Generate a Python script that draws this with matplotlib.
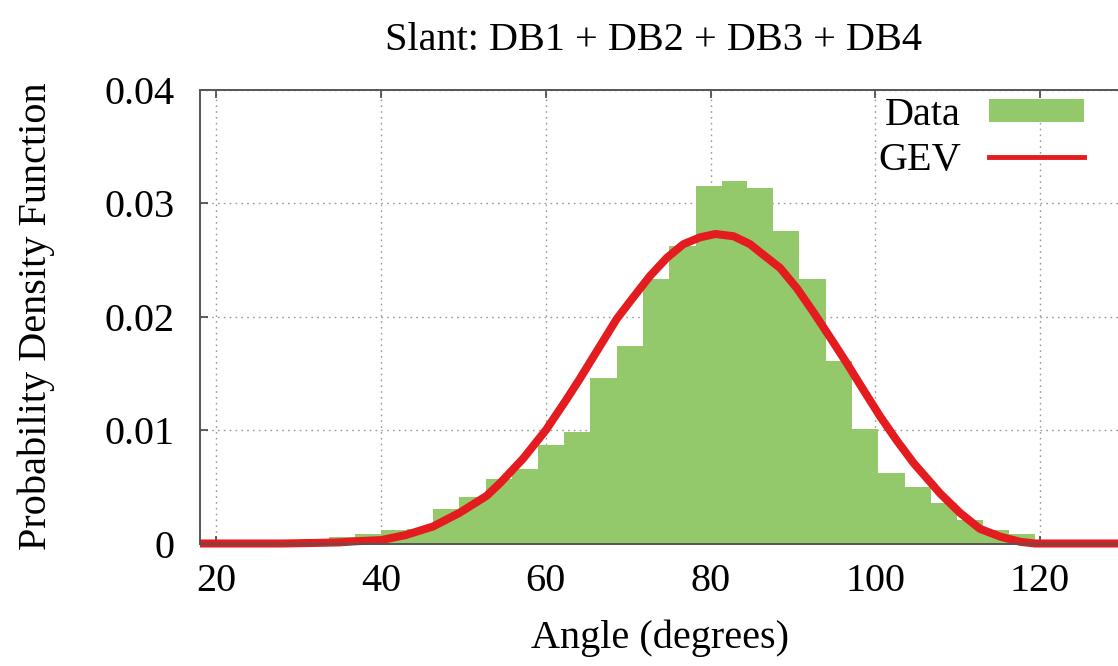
import matplotlib
matplotlib.use("Agg")
import matplotlib.pyplot as plt
from matplotlib.patches import Patch
from matplotlib.lines import Line2D

# ---- data ----
bin_edges = [30.45, 33.65, 36.8, 39.96, 43.16, 46.3, 49.5, 52.7, 55.9, 59.07,
             62.2, 65.4, 68.6, 71.76, 75.0, 78.2, 81.33, 84.4, 87.6, 90.8,
             94.0, 97.2, 100.3, 103.6, 106.75, 109.9, 113.1, 116.2, 119.4]
hist_density = [0.00037, 0.0006, 0.0008, 0.0012, 0.0013, 0.0030, 0.0041, 0.0057,
                0.0066, 0.0087, 0.0098, 0.0146, 0.0174, 0.0233, 0.0262, 0.0315,
                0.0320, 0.0314, 0.0276, 0.0233, 0.0161, 0.0101, 0.0062, 0.0050,
                0.0036, 0.0021, 0.0012, 0.0008]

gev_x = [18, 28, 32, 35, 37, 40, 43, 46.3, 49.5, 52.8, 54.4, 57.25, 60, 62.5,
         64.1, 66.56, 68.6, 70.6, 72.65, 74.7, 76.7, 78.7, 80.6, 82.8, 84.8, 86,
         88.45, 90.5, 92.5, 94.5, 96.55, 98.6, 100.6, 102.6, 104.65, 107.9, 110.3,
         112.7, 115.2, 117.6, 119.4, 132]
gev_pdf = [0, 0, 0.00005, 0.0001, 0.0002, 0.0003, 0.00075, 0.0015, 0.0027, 0.0042,
           0.0053, 0.0075, 0.0100, 0.0127, 0.0145, 0.0174, 0.0198, 0.0217, 0.0236,
           0.0252, 0.0264, 0.0270, 0.0273, 0.0271, 0.0264, 0.0257, 0.0243, 0.0225,
           0.0204, 0.0182, 0.0159, 0.0135, 0.0112, 0.0091, 0.0071, 0.0044, 0.0027,
           0.0013, 0.0006, 0.00015, 0, 0]

x_ticks = [20, 40, 60, 80, 100, 120]
y_ticks = [0, 0.01, 0.02, 0.03, 0.04]
y_tick_labels = ["0", "0.01", "0.02", "0.03", "0.04"]

title = "Slant: DB1 + DB2 + DB3 + DB4"
xlabel = "Angle (degrees)"
ylabel = "Probability Density Function"

# ---- style ----
plt.rcParams['font.family'] = ['Liberation Serif', 'DejaVu Serif']
FS = 29
green = '#93c96b'
red = '#e41b1f'

fig = plt.figure(figsize=(11.18, 6.66), dpi=100)
ax = fig.add_axes([200/1118, 1-543.5/666, 940.4/1118, (543.5-90)/666])

lefts = bin_edges[:-1]
widths = [b - a for a, b in zip(bin_edges[:-1], bin_edges[1:])]
ax.bar(lefts, hist_density, width=widths, align='edge', color=green,
       edgecolor='none', zorder=2)
ax.plot(gev_x, gev_pdf, color=red, lw=5.8, zorder=3, clip_on=False,
        solid_joinstyle='round', solid_capstyle='butt')

ax.set_xlim(18, 132.2)
ax.set_ylim(0, 0.04)
ax.set_xticks(x_ticks)
ax.set_yticks(y_ticks)
ax.set_yticklabels(y_tick_labels)
ax.tick_params(axis='both', direction='in', length=6, width=1.2, color='#444444',
               labelsize=FS, top=True, right=True)
ax.tick_params(axis='x', pad=14)
ax.tick_params(axis='y', pad=18)
ax.grid(True, color='#999999', linestyle=(0, (1.2, 3)), linewidth=1.0, zorder=1)
ax.set_axisbelow(True)
for s in ax.spines.values():
    s.set_color('#555555')
    s.set_linewidth(1.4)
    s.set_zorder(4)

handles = [Patch(facecolor=green, edgecolor='none', label='Data'),
           Line2D([0], [0], color=red, lw=3.5, label='GEV')]
ax.legend(handles=handles, loc='upper right', bbox_to_anchor=(0.94, 0.985),
          frameon=False, fontsize=FS, markerfirst=False, handlelength=2.35,
          handleheight=0.5, handletextpad=0.7, labelspacing=0.2,
          borderaxespad=0, borderpad=0)

fig.text(654/1118, 1-40/666, title, ha='center', va='center', fontsize=FS)
fig.text(660/1118, 1-638/666, xlabel, ha='center', va='center', fontsize=FS)
fig.text(36/1118, 1-316/666, ylabel, ha='center', va='center', fontsize=FS,
         rotation=90)

fig.savefig('out.png', dpi=100)
